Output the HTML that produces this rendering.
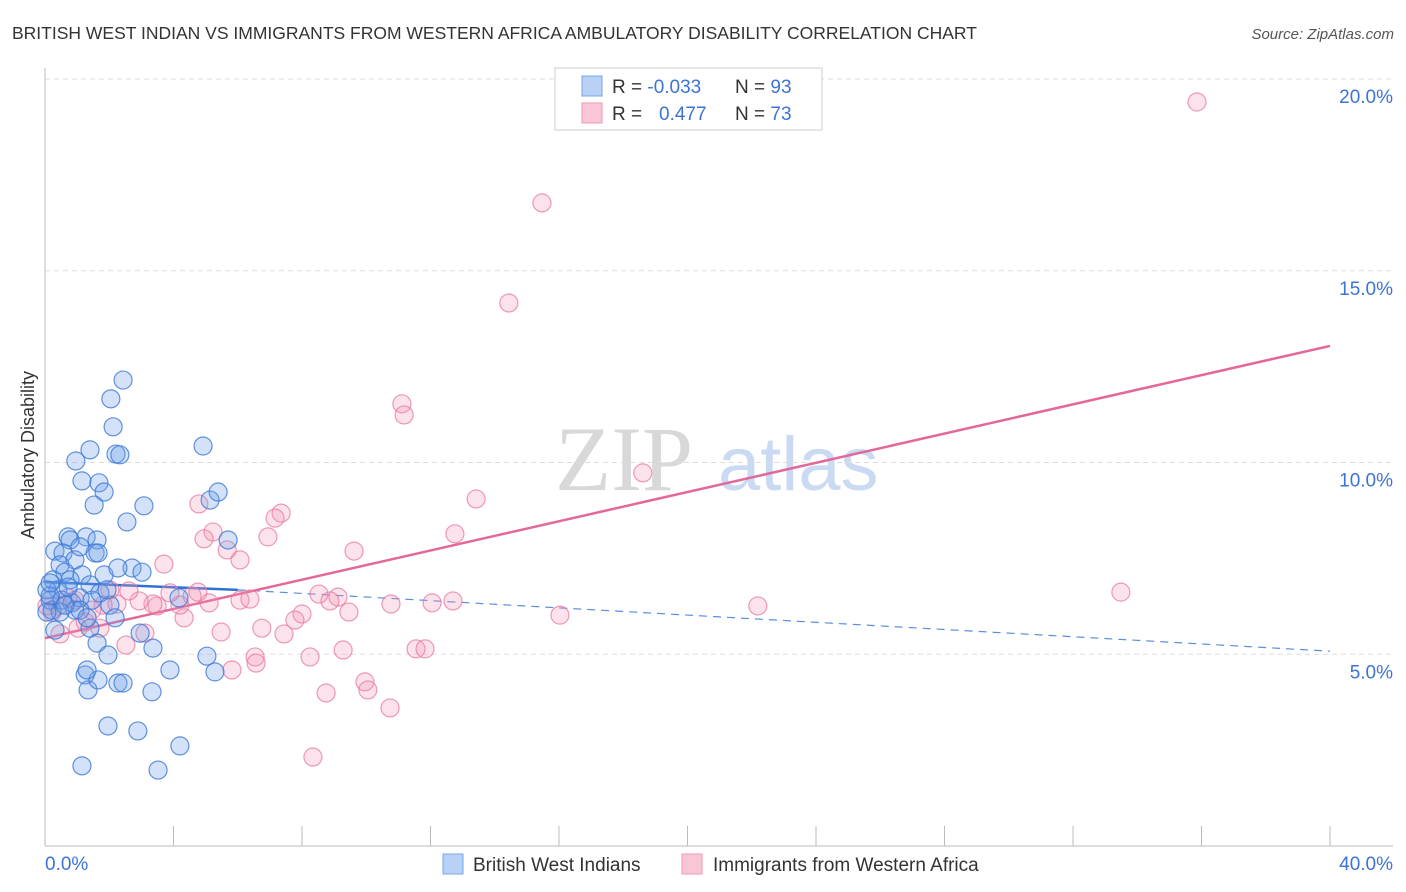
<!DOCTYPE html>
<html><head><meta charset="utf-8"><style>
body{margin:0;background:#fff;font-family:"Liberation Sans",sans-serif}
svg{display:block}
</style></head><body>
<svg id="chart" width="1406" height="892" xmlns="http://www.w3.org/2000/svg" font-family="Liberation Sans, sans-serif">
<text x="12" y="39" font-size="17.5" fill="#333">BRITISH WEST INDIAN VS IMMIGRANTS FROM WESTERN AFRICA AMBULATORY DISABILITY CORRELATION CHART</text>
<text x="1394" y="39" font-size="15" fill="#555" font-style="italic" text-anchor="end">Source: ZipAtlas.com</text>
<g>
<text x="555" y="490" font-size="92" font-family="Liberation Serif, serif" fill="#d8d8d8">ZIP</text>
<text x="718" y="490" font-size="76" fill="#c9daf2">atlas</text>
</g>
<g id="grid"></g>
<g id="axes"></g>
<g id="trends"></g>
<g id="points"></g>
<text transform="translate(34,455) rotate(-90)" font-size="18" fill="#333" text-anchor="middle">Ambulatory Disability</text>
<g>
<rect x="555" y="68" width="267" height="62" fill="#fff" stroke="#ccc"/>
<rect x="582" y="76" width="20" height="20" fill="#b8d1f5" stroke="#7aa6e6"/>
<rect x="582" y="103" width="20" height="20" fill="#f9c6d5" stroke="#ee9ab5"/>
<text x="612" y="93" font-size="19" fill="#333">R = <tspan fill="#3d73d6">-0.033</tspan><tspan x="735">N = </tspan><tspan fill="#3d73d6">93</tspan></text>
<text x="612" y="120" font-size="19" fill="#333">R = <tspan x="659" fill="#3d73d6">0.477</tspan><tspan x="735">N = </tspan><tspan fill="#3d73d6">73</tspan></text>
</g>
<g>
<rect x="443" y="854" width="20" height="20" fill="#b8d1f5" stroke="#7aa6e6"/>
<text x="473" y="871" font-size="19" fill="#333">British West Indians</text>
<rect x="682" y="854" width="20" height="20" fill="#f9c6d5" stroke="#ee9ab5"/>
<text x="713" y="871" font-size="19" fill="#333">Immigrants from Western Africa</text>
</g>
</svg>
<script>
const yTicks=[5,10,15,20];
const yTickLabels=["5.0%","10.0%","15.0%","20.0%"];
const xEndLabels=["0.0%","40.0%"];
const blueX=[2.43,2.05,2.12,2.21,2.33,1.40,0.96,1.15,1.68,1.84,1.53,2.55,3.08,4.92,5.14,5.39,5.70,2.71,1.84,2.27,1.28,1.62,0.72,0.78,0.31,0.56,0.93,1.09,1.15,0.47,0.62,0.78,1.40,1.56,1.65,2.02,2.18,0.25,0.40,0.16,0.22,0.53,0.84,1.09,1.46,0.93,0.31,1.40,1.62,1.96,2.27,2.43,1.25,1.34,1.65,3.89,2.96,3.36,3.33,5.04,5.29,1.96,2.89,4.20,1.15,3.52,4.17,1.71,0.47,0.06,0.16,0.72,1.09,0.62,1.93,1.31,3.02,1.31,0.16,0.06];
const blueY=[12.15,11.66,10.93,10.22,10.20,10.33,10.04,9.52,9.47,9.23,8.89,8.45,8.87,10.43,9.02,9.23,7.98,7.25,7.07,7.25,8.06,7.98,8.06,7.98,7.69,7.64,7.46,7.80,7.07,7.33,7.14,6.94,6.81,7.64,7.64,6.28,5.95,6.94,6.68,6.41,6.15,6.41,6.34,6.47,6.41,6.15,5.63,5.68,5.29,4.98,4.25,4.25,4.46,4.07,4.33,4.59,5.55,5.16,4.02,4.95,4.54,3.13,3.00,2.61,2.09,1.98,6.47,6.60,6.10,6.68,6.52,6.75,6.15,6.28,6.68,5.95,7.14,4.59,6.86,6.10];
const pinkX=[35.86,15.47,14.44,11.11,11.18,18.61,13.42,12.76,9.62,7.35,7.16,6.94,6.07,5.67,5.23,4.95,4.79,3.70,33.49,22.19,16.03,12.70,12.05,10.77,9.46,9.12,8.87,8.53,8.00,7.78,7.44,6.75,5.48,5.11,4.58,4.33,4.20,3.89,3.49,3.36,2.93,2.61,2.24,2.02,1.81,1.46,1.25,1.71,1.03,0.47,0.40,0.22,0.06,2.52,3.11,6.54,8.25,9.28,11.55,11.83,5.82,6.57,9.96,10.05,10.74,8.75,8.34,6.07,6.38,4.76,0.72,0.93];
const pinkY=[19.40,16.77,14.16,11.53,11.24,9.73,9.05,8.14,7.69,8.68,8.55,8.06,7.46,7.72,8.19,8.01,8.92,7.35,6.62,6.26,6.02,6.39,6.34,6.31,6.10,6.49,6.39,6.57,6.05,5.89,5.53,5.68,5.58,6.34,6.52,5.95,6.28,6.60,6.26,6.31,6.39,6.65,6.31,6.68,6.28,6.15,5.84,5.68,5.68,5.53,6.26,6.10,6.26,5.24,5.55,4.93,4.93,5.11,5.14,5.14,4.59,4.77,4.28,4.07,3.60,3.99,2.32,6.41,6.44,6.62,6.47,6.41];
const blueTrendX=[0,6,40];
const blueTrendY=[6.88,6.68,5.08];
const pinkTrendX=[0,40];
const pinkTrendY=[5.42,13.04];

const NS="http://www.w3.org/2000/svg";
const X0=45,X1=1330,Y0=846,PY=38.35;
const sx=v=>X0+(X1-X0)*v/40;
const sy=v=>Y0-v*PY;
function mk(tag,attrs,parent){const e=document.createElementNS(NS,tag);for(const k in attrs)e.setAttribute(k,attrs[k]);parent.appendChild(e);return e;}
const grid=document.getElementById('grid'),axes=document.getElementById('axes'),trends=document.getElementById('trends'),pts=document.getElementById('points');
yTicks.forEach((t,i)=>{
  const l=mk('line',{x1:X0,x2:1393,y1:sy(t),y2:sy(t),stroke:'#ddd','stroke-dasharray':'5,4'},grid);
  
  
  const tx=mk('text',{x:1393,y:sy(t)+24,'font-size':19,fill:'#3d73d6','text-anchor':'end'},axes);
  tx.textContent=yTickLabels[i];
  
  
});
const ya=mk('line',{x1:X0,x2:X0,y1:68,y2:Y0,stroke:'#bbb'},axes);


const xa=mk('line',{x1:X0,x2:1393,y1:Y0,y2:Y0,stroke:'#bbb'},axes);


for(let v=0;v<=40;v+=4){
  const tk=mk('line',{x1:sx(v),x2:sx(v),y1:826,y2:Y0,stroke:'#bbb'},axes);
  
  
}
[[0,'start',45],[40,'end',1393]].forEach((a,i)=>{
  const t=mk('text',{x:a[2],y:870,'font-size':19,fill:'#3d73d6','text-anchor':a[1]},axes);
  t.textContent=xEndLabels[i];
  
  
});
function drawPts(xs,ys,fill,stroke,name){
  xs.forEach((x,i)=>{
    const c=mk('circle',{cx:sx(x),cy:sy(ys[i]),r:9,fill:fill,stroke:stroke,'stroke-width':1.2},pts);
    
    
  });
}
drawPts(pinkX,pinkY,'rgba(244,150,180,0.28)','rgba(232,120,160,0.75)','point-western-africa');
drawPts(blueX,blueY,'rgba(110,160,232,0.3)','rgba(60,120,215,0.8)','point-british-west-indian');
const b1=mk('line',{x1:sx(blueTrendX[0]),y1:sy(blueTrendY[0]),x2:sx(blueTrendX[1]),y2:sy(blueTrendY[1]),stroke:'#2f6fd8','stroke-width':2.5},trends);


const b2=mk('line',{x1:sx(blueTrendX[1]),y1:sy(blueTrendY[1]),x2:sx(blueTrendX[2]),y2:sy(blueTrendY[2]),stroke:'#5a8ee0','stroke-width':1.2,'stroke-dasharray':'8,6'},trends);


const p1=mk('line',{x1:sx(pinkTrendX[0]),y1:sy(pinkTrendY[0]),x2:sx(pinkTrendX[1]),y2:sy(pinkTrendY[1]),stroke:'#e4679a','stroke-width':2.5},trends);


</script>
</body></html>
